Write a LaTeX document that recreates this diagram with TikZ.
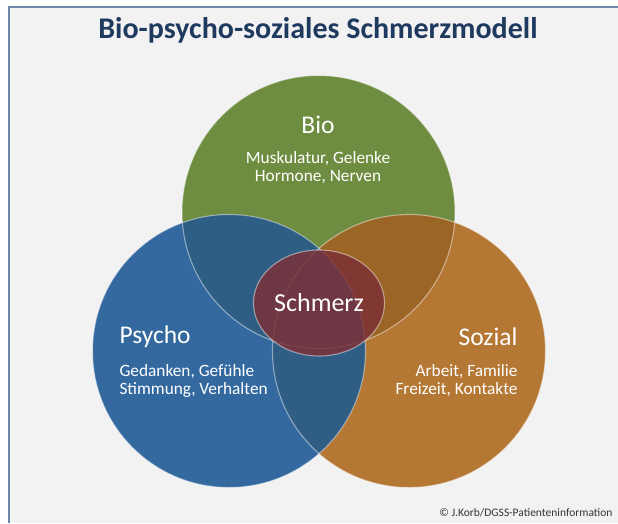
\documentclass[tikz,border=0pt]{standalone}
\usepackage{fontspec}
\setmainfont{Carlito}
\usepackage{tikz}
\usepackage{xcolor}
\usetikzlibrary{positioning,shapes.geometric}
\definecolor{panel}    {HTML}{F2F2F2}
\definecolor{frame}    {HTML}{6F86A8}
\definecolor{titleink} {HTML}{1F3A5F}
\definecolor{biogreen} {HTML}{6E8D40}
\definecolor{psyblue}  {HTML}{3469A0}
\definecolor{sozorange}{HTML}{B57734}
\definecolor{bioblue}  {HTML}{2E5E83}
\definecolor{bioorange}{HTML}{9B6526}
\definecolor{sozblue}  {HTML}{2F5D83}
\definecolor{painred}  {HTML}{7C2F35}
\newcommand{\circrad}{136.5pt}
\tikzset{
  circ/.style={circle,minimum size=273pt,inner sep=0pt},
  rim/.style={draw=white,draw opacity=0.45,line width=1.1pt},
  head/.style={text=white,font=\fontsize{25.5}{28}\selectfont},
  sub/.style={text=white,font=\fontsize{17.3}{18}\selectfont}
}
\begin{document}
\begin{tikzpicture}[x=1pt,y=-1pt]
  \useasboundingbox (0,0) rectangle (618,523);
  \fill[panel] (9,7) rectangle (618,523);
  \draw[frame,line width=1.8pt] (9,523) -- (9,7) -- (618,7);
  \node[font=\bfseries\fontsize{30}{32}\selectfont,text=titleink] (title) at (318,30)
    {Bio-psycho-soziales Schmerzmodell};
  % three circles
  \node[circ,fill=biogreen]  (bio)    at (318.5,212) {};
  \node[circ,fill=sozorange] (sozial) at (409,351) {};
  \node[circ,fill=psyblue]   (psycho) at (229,351) {};
  % overlaps
  \begin{scope}
    \clip (bio.center) circle[radius=\circrad];
    \fill[bioorange] (sozial.center) circle[radius=\circrad];
    \fill[bioblue] (psycho.center) circle[radius=\circrad];
  \end{scope}
  \begin{scope}
    \clip (sozial.center) circle[radius=\circrad];
    \fill[sozblue] (psycho.center) circle[radius=\circrad];
  \end{scope}
  \draw[rim] (bio.center) circle[radius=\circrad];
  \draw[rim] (sozial.center) circle[radius=\circrad];
  \draw[rim] (psycho.center) circle[radius=\circrad];
  \node[ellipse,minimum width=131pt,minimum height=106pt,fill=painred,fill opacity=0.82,
        rim,inner sep=0pt] (pain) at (319,303) {};
  \node[text=white,font=\fontsize{26}{28}\selectfont] (painlabel) at (pain) {Schmerz};
  % labels
  \node[head] (biohead) at (318,125) {Bio};
  \node[sub,align=center] (biotext) at (318,168) {Muskulatur, Gelenke\\Hormone, Nerven};
  \node[head,anchor=west] (psyhead) at (116,337) {Psycho};
  \node[sub,align=left,anchor=west] (psytext) at (116,381) {Gedanken, Gefühle\\Stimmung, Verhalten};
  \node[head,anchor=east] (sozhead) at (521,337) {Sozial};
  \node[sub,align=right,anchor=east] (soztext) at (521,381) {Arbeit, Familie\\Freizeit, Kontakte};
  \node[anchor=east,font=\fontsize{11.5}{14}\selectfont,text=black!80] (credit) at (616,513)
    {© J.Korb/DGSS-Patienteninformation};
\end{tikzpicture}
\end{document}
